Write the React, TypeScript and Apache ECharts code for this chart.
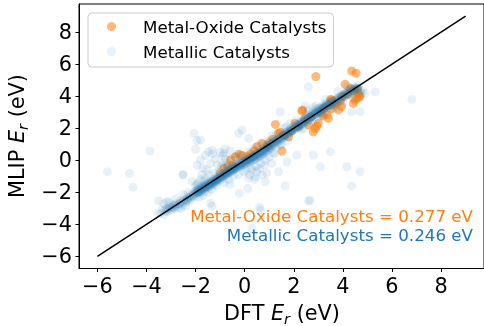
import React, { useEffect, useRef } from "react";
import * as echarts from "echarts";

// [DFT Er, MLIP Er] pairs (eV)
const metalOxide: [number, number][] = [
  [2.9, 5.22], [4.36, 5.57], [4.54, 5.43], [4.09, 4.74], [4.3, 4.49], [4.57, 3.87], [4.63, 4.18],
  [4.43, 3.55], [3.55, 3.76], [3.82, 3.14], [3.35, 2.83], [2.8, 1.78], [2.87, 1.99], [2.36, 3.14],
  [2.6, 2.2], [3.0, 2.3], [3.41, 2.62], [3.75, 3.55], [1.25, 2.24], [1.52, 0.58], [-0.22, 0.37],
  [-0.38, 0.22], [0.7, 1.06], [0.5, 0.85], [1.38, 1.68], [1.79, 1.47], [2.94, 2.14], [-0.58, 0.02],
  [-0.85, -0.5], [2.2, 2.1], [2.45, 2.6], [2.7, 2.7], [3.1, 3.0], [3.25, 3.3], [3.5, 3.2],
  [3.65, 3.45], [3.9, 3.7], [4.0, 4.0], [4.2, 4.1], [4.45, 4.3], [4.6, 4.45], [4.7, 4.0],
  [4.5, 3.75], [1.0, 1.1], [1.15, 1.3], [1.6, 1.55], [1.9, 1.8], [2.05, 2.3], [0.9, 0.95],
  [1.45, 1.75], [0.1, 0.25], [0.25, 0.4], [-0.1, 0.3], [-0.5, -0.3], [-0.7, -0.4], [0.4, 0.6],
  [-1.0, -0.8], [3.5, 3.8], [4.66, 3.93], [2.33, 3.08], [3.2, 2.75], [3.95, 3.35],
];

const metallic: [number, number][] = [
  // outliers
  [-5.6, -0.71], [-4.69, -0.81], [-4.55, -1.68], [-3.86, 0.58], [-2.07, 1.68], [-1.94, 1.23],
  [-2.0, 0.69], [-2.52, -0.87], [-3.5, -2.54], [-3.16, -2.58], [-1.46, 0.54], [-1.94, -0.29],
  [-1.8, 0.02], [-2.14, -1.33], [1.45, 3.03], [2.47, 3.39], [-0.11, 1.89], [-0.24, 1.68],
  [0.16, 1.37], [-1.8, 1.27], [-1.33, 0.64], [-0.85, 0.44], [1.38, -0.71], [1.65, -1.6],
  [-0.22, -2.06], [0.13, -1.75], [0.61, -2.93], [-1.33, -2.85], [2.8, 0.33], [2.67, -2.48],
  [0.43, -1.02], [1.11, -0.19], [1.72, -0.09], [-0.65, -0.29], [0.84, -1.33], [3.48, 0.54],
  [3.08, -0.4], [4.16, -0.4], [4.7, -0.71], [4.36, -1.6], [2.6, -2.54], [2.13, 0.33],
  [0.64, -3.1], [-2.51, -0.92], [-3.54, -3.3], [-1.39, -2.68], [0.3, -4.24], [5.31, 4.28],
  [6.81, 3.8], [4.9, 4.18], [4.7, 3.03], [4.36, 3.03], [2.6, 4.59],
  [-1.6, 0.3], [-1.2, 0.1], [-1.0, 0.5], [-0.8, 0.7], [-1.4, -0.2], [-1.7, -0.5], [-0.6, 0.6],
  [-1.1, -0.3], [-0.9, 0.3], [-1.3, 0.4], [0.3, -0.6], [0.6, -0.5], [1.0, 0.2], [0.9, -0.8],
  [1.2, 0.4], [0.15, -1.1],
  // band -3.4 .. -2
  [-3.42, -3.3], [-3.35, -3.05], [-3.28, -3.4], [-3.2, -3.0], [-3.12, -3.15], [-3.05, -2.85],
  [-2.98, -3.1], [-2.9, -2.75], [-2.85, -3.0], [-2.78, -2.7], [-2.7, -2.95], [-2.62, -2.55],
  [-2.55, -2.8], [-2.48, -2.45], [-2.42, -2.62], [-2.35, -2.3], [-2.3, -2.55], [-2.22, -2.2],
  [-2.18, -2.45], [-2.1, -2.05], [-2.05, -2.3], [-2.0, -1.95], [-3.1, -2.6], [-2.8, -2.4],
  [-2.6, -3.0], [-2.5, -2.15], [-2.3, -2.0], [-3.3, -2.7], [-2.4, -2.85],
  // band -2 .. -1
  [-1.98, -2.1], [-1.95, -1.85], [-1.92, -2.0], [-1.88, -1.7], [-1.85, -1.95], [-1.82, -1.8],
  [-1.78, -2.05], [-1.75, -1.6], [-1.72, -1.85], [-1.7, -1.7], [-1.66, -1.55], [-1.63, -1.9],
  [-1.6, -1.65], [-1.57, -1.45], [-1.54, -1.75], [-1.5, -1.55], [-1.47, -1.35], [-1.44, -1.65],
  [-1.4, -1.45], [-1.37, -1.3], [-1.34, -1.55], [-1.3, -1.4], [-1.27, -1.2], [-1.24, -1.45],
  [-1.2, -1.3], [-1.17, -1.1], [-1.14, -1.35], [-1.1, -1.2], [-1.07, -1.0], [-1.04, -1.25],
  [-1.0, -1.1], [-1.9, -1.4], [-1.8, -1.2], [-1.7, -2.2], [-1.6, -1.1], [-1.5, -2.0],
  [-1.45, -0.9], [-1.35, -1.8], [-1.25, -0.8], [-1.15, -1.6], [-1.05, -0.7], [-1.95, -1.5],
  [-1.65, -1.3], [-1.55, -0.6], [-1.75, -0.9], [-1.85, -2.3], [-2.0, -1.6],
  [-1.93, -1.92], [-1.81, -1.9], [-1.69, -1.62], [-1.58, -1.6], [-1.46, -1.5], [-1.33, -1.38],
  [-1.21, -1.22], [-1.12, -1.15], [-1.86, -1.78], [-1.62, -1.72], [-1.41, -1.38], [-1.18, -1.25],
  // band -1 .. 0
  [-0.97, -0.95], [-0.94, -1.15], [-0.9, -0.85], [-0.87, -1.05], [-0.84, -0.8], [-0.8, -0.95],
  [-0.77, -0.7], [-0.74, -0.9], [-0.7, -0.65], [-0.67, -0.85], [-0.64, -0.6], [-0.6, -0.75],
  [-0.57, -0.5], [-0.54, -0.7], [-0.5, -0.45], [-0.47, -0.65], [-0.44, -0.4], [-0.4, -0.55],
  [-0.37, -0.3], [-0.34, -0.5], [-0.3, -0.25], [-0.27, -0.45], [-0.24, -0.2], [-0.2, -0.4],
  [-0.17, -0.15], [-0.14, -0.35], [-0.1, -0.1], [-0.07, -0.3], [-0.04, -0.05], [0.0, -0.25],
  [-0.95, -0.4], [-0.85, -1.4], [-0.75, -0.2], [-0.65, -1.2], [-0.55, 0.1], [-0.45, -1.0],
  [-0.35, 0.2], [-0.25, -0.9], [-0.15, 0.3], [-0.05, -0.7], [-0.9, -0.2], [-0.6, -1.5],
  [-0.3, 0.4], [-0.8, 0.1], [-0.92, -0.98], [-0.78, -0.82], [-0.62, -0.7], [-0.48, -0.55],
  [-0.32, -0.4], [-0.18, -0.28], [-0.06, -0.15], [-0.71, -0.78], [-0.42, -0.48],
  // band 0 .. 1
  [0.03, 0.0], [0.06, -0.2], [0.1, 0.05], [0.13, -0.15], [0.16, 0.1], [0.2, -0.1], [0.23, 0.15],
  [0.26, -0.05], [0.3, 0.2], [0.33, 0.0], [0.36, 0.25], [0.4, 0.05], [0.43, 0.3], [0.46, 0.1],
  [0.5, 0.35], [0.53, 0.15], [0.56, 0.4], [0.6, 0.2], [0.63, 0.45], [0.66, 0.3], [0.7, 0.55],
  [0.73, 0.35], [0.76, 0.6], [0.8, 0.45], [0.83, 0.7], [0.86, 0.5], [0.9, 0.75], [0.93, 0.6],
  [0.96, 0.85], [1.0, 0.7], [0.05, -0.6], [0.15, 0.5], [0.25, -0.5], [0.35, 0.7], [0.45, -0.4],
  [0.55, 0.9], [0.65, -0.2], [0.75, 1.0], [0.85, 0.0], [0.95, 1.2], [0.2, -0.9], [0.5, -0.7],
  [0.8, -0.3], [0.4, -1.2], [0.7, -0.9], [0.08, -0.08], [0.22, 0.02], [0.38, 0.18],
  [0.52, 0.3], [0.68, 0.42], [0.82, 0.58], [0.98, 0.78],
  // band 1 .. 2
  [1.03, 0.9], [1.07, 0.75], [1.1, 1.0], [1.14, 0.85], [1.18, 1.1], [1.22, 0.95], [1.26, 1.2],
  [1.3, 1.05], [1.34, 1.3], [1.38, 1.15], [1.42, 1.4], [1.46, 1.25], [1.5, 1.5], [1.54, 1.35],
  [1.58, 1.6], [1.62, 1.45], [1.66, 1.7], [1.7, 1.55], [1.74, 1.8], [1.78, 1.65], [1.82, 1.9],
  [1.86, 1.75], [1.9, 2.0], [1.94, 1.85], [1.98, 2.1], [1.1, 1.5], [1.2, 0.5], [1.3, 1.7],
  [1.45, 0.9], [1.6, 2.0], [1.75, 1.2], [1.85, 2.3], [1.5, 1.0], [1.15, 1.35], [1.7, 2.1],
  // band 2 .. 3.5
  [2.02, 1.95], [2.06, 2.15], [2.1, 2.0], [2.14, 2.2], [2.18, 2.05], [2.22, 2.3], [2.26, 2.15],
  [2.3, 2.4], [2.34, 2.25], [2.38, 2.5], [2.42, 2.35], [2.46, 2.6], [2.5, 2.45], [2.54, 2.7],
  [2.58, 2.55], [2.62, 2.8], [2.66, 2.65], [2.7, 2.9], [2.74, 2.75], [2.78, 3.0], [2.82, 2.85],
  [2.86, 3.1], [2.9, 2.95], [2.94, 3.2], [2.98, 3.05], [3.02, 3.25], [3.06, 3.1], [3.1, 3.3],
  [3.14, 3.15], [3.18, 3.4], [3.22, 3.25], [3.26, 3.5], [3.3, 3.35], [3.34, 3.55], [3.38, 3.4],
  [3.42, 3.6], [3.46, 3.45], [3.5, 3.65], [2.1, 2.5], [2.3, 1.9], [2.5, 2.9], [2.7, 2.3],
  [2.9, 3.4], [3.1, 2.8], [3.3, 3.8], [2.4, 2.0], [2.8, 3.3], [3.2, 2.9], [2.6, 3.1], [3.0, 2.6],
  [2.2, 2.2], [2.44, 2.42], [2.68, 2.72], [2.92, 2.98], [3.16, 3.22], [3.4, 3.45],
  // band 3.5 .. 4.8
  [3.55, 3.5], [3.6, 3.7], [3.65, 3.55], [3.7, 3.8], [3.75, 3.65], [3.8, 3.9], [3.85, 3.75],
  [3.9, 4.0], [3.95, 3.85], [4.0, 4.1], [4.05, 3.95], [4.1, 4.2], [4.15, 4.05], [4.2, 4.3],
  [4.25, 4.15], [4.3, 4.4], [4.35, 4.25], [4.4, 4.5], [4.45, 4.35], [4.5, 4.55], [4.55, 4.4],
  [4.6, 4.5], [4.7, 4.3], [4.8, 4.4], [4.75, 4.15], [3.6, 3.2], [3.8, 4.3], [4.0, 3.6],
  [4.2, 4.6], [4.4, 3.9], [4.65, 4.7], [3.7, 3.3],
  // dense core along the diagonal
  [-3.2, -3.2], [-3.0, -2.95], [-2.85, -2.85], [-2.7, -2.75], [-2.55, -2.6], [-2.4, -2.45],
  [-2.27, -2.35], [-2.15, -2.25], [-2.05, -2.1], [-1.97, -2.02], [-1.9, -1.95], [-1.83, -1.88],
  [-1.76, -1.8], [-1.68, -1.75], [-1.61, -1.68], [-1.53, -1.6], [-1.45, -1.52], [-1.38, -1.45],
  [-1.31, -1.35], [-1.23, -1.3], [-1.16, -1.22], [-1.08, -1.12], [-1.01, -1.05], [-0.95, -1.02],
  [-0.88, -0.95], [-0.81, -0.88], [-0.73, -0.8], [-0.66, -0.72], [-0.58, -0.65], [-0.51, -0.58],
  [-0.43, -0.5], [-0.36, -0.42], [-0.28, -0.35], [-0.21, -0.28], [-0.13, -0.2], [-0.05, -0.12],
  [0.02, -0.05], [0.09, 0.02], [0.17, 0.08], [0.24, 0.16], [0.32, 0.22], [0.39, 0.3],
  [0.47, 0.38], [0.54, 0.45], [0.62, 0.52], [0.69, 0.6], [0.77, 0.68], [0.84, 0.76],
  [0.92, 0.84], [0.99, 0.92], [1.06, 1.0], [1.14, 1.08], [1.22, 1.15], [1.3, 1.24],
  [1.38, 1.32], [1.46, 1.4], [1.54, 1.48], [1.62, 1.57], [1.7, 1.65], [1.78, 1.74],
  [1.86, 1.82], [1.94, 1.9], [2.04, 2.02], [2.12, 2.1], [2.2, 2.18], [2.28, 2.27],
  [2.36, 2.35], [2.44, 2.44], [2.52, 2.52], [2.6, 2.6], [2.68, 2.68], [2.76, 2.77],
  [2.84, 2.85], [2.92, 2.93], [3.0, 3.02], [3.08, 3.1], [3.16, 3.18], [3.24, 3.27],
  [3.32, 3.35], [3.4, 3.43], [3.48, 3.52], [3.58, 3.62], [3.68, 3.7], [3.78, 3.8],
  [3.88, 3.9], [3.98, 4.0], [4.08, 4.1], [4.18, 4.2], [4.28, 4.3], [4.38, 4.38],
  [4.48, 4.45], [4.58, 4.42],
  [-2.95, -2.9], [-2.62, -2.68], [-2.33, -2.4], [-2.12, -2.18], [-1.88, -1.98], [-1.72, -1.78],
  [-1.56, -1.64], [-1.42, -1.5], [-1.27, -1.36], [-1.12, -1.2], [-0.98, -1.06], [-0.84, -0.92],
  [-0.69, -0.78], [-0.55, -0.62], [-0.4, -0.48], [-0.25, -0.32], [-0.1, -0.18], [0.06, -0.02],
  [0.21, 0.12], [0.35, 0.26], [0.5, 0.42], [0.65, 0.56], [0.8, 0.72], [0.95, 0.88],
  [1.1, 1.04], [1.26, 1.2], [1.42, 1.36], [1.58, 1.52], [1.74, 1.7], [1.9, 1.86],
  [2.08, 2.06], [2.24, 2.22], [2.4, 2.4], [2.56, 2.56], [2.72, 2.73], [2.88, 2.9],
  [3.04, 3.06], [3.2, 3.22], [3.36, 3.39], [3.53, 3.56], [3.73, 3.75], [3.93, 3.95],
  [4.13, 4.15], [4.33, 4.33], [4.53, 4.48],
  [-3.25, -3.1], [-3.15, -3.05], [-3.05, -3.0], [-2.92, -2.95], [-2.8, -2.82], [-2.66, -2.7],
  [-2.5, -2.55], [-2.37, -2.5], [-2.25, -2.3], [-2.1, -2.2], [-1.99, -1.9], [-1.94, -2.05],
  [-1.87, -1.85], [-1.8, -1.98], [-1.74, -1.7], [-1.67, -1.82], [-1.6, -1.58], [-1.52, -1.7],
  [-1.48, -1.45], [-1.4, -1.58], [-1.35, -1.33], [-1.28, -1.48], [-1.22, -1.18], [-1.15, -1.3],
  [-1.09, -1.05], [-1.03, -1.18], [-0.96, -0.9], [-0.89, -1.0], [-0.83, -0.75], [-0.76, -0.86],
  [-0.68, -0.6], [-0.61, -0.72], [-0.53, -0.48], [-0.46, -0.6], [-0.38, -0.35], [-0.31, -0.46],
  [-0.23, -0.22], [-0.16, -0.32], [-0.08, -0.06], [-0.02, -0.2], [0.04, 0.05], [0.11, -0.1],
  [0.19, 0.14], [0.27, 0.0], [0.34, 0.28], [0.42, 0.12], [0.49, 0.42], [0.57, 0.28],
  [0.64, 0.56], [0.72, 0.44], [0.79, 0.7], [0.87, 0.6], [0.94, 0.9], [1.01, 0.8],
  [1.08, 1.05], [1.16, 0.98], [1.24, 1.26], [1.32, 1.14], [1.4, 1.44], [1.48, 1.32],
  [1.56, 1.58], [1.64, 1.5], [1.72, 1.76], [1.8, 1.68], [1.88, 1.94], [1.96, 1.86],
  [2.03, 2.08], [2.09, 1.98], [2.16, 2.24], [2.23, 2.12], [2.31, 2.36], [2.37, 2.26],
  [2.45, 2.52], [2.51, 2.4], [2.59, 2.66], [2.65, 2.54], [2.73, 2.8], [2.79, 2.7],
  [2.87, 2.95], [2.93, 2.84], [3.01, 3.1], [3.07, 2.98], [3.15, 3.25], [3.21, 3.12],
  [3.29, 3.4], [3.35, 3.28], [3.43, 3.5], [3.49, 3.4], [3.57, 3.66], [3.66, 3.58],
  [3.76, 3.86], [3.86, 3.78], [3.96, 4.06], [4.06, 3.98], [4.16, 4.26], [4.26, 4.18],
  [4.36, 4.44], [4.46, 4.4], [4.56, 4.52],
];

const refLine: [number, number][] = [[-6, -6], [9, 9]];
const xTicks = [-6, -4, -2, 0, 2, 4, 6, 8];
const yTicks = [-6, -4, -2, 0, 2, 4, 6, 8];
const seriesNames = ["Metal-Oxide Catalysts", "Metallic Catalysts"];
const maeValues = ["0.277", "0.246"];

const ORANGE = "#ff7f0e";
const BLUE = "#1f77b4";
const FONT = "DejaVu Sans";

const fmt = (v: number) => (v < 0 ? "\u2212" + Math.abs(v) : String(v));

export default function App() {
  const ref = useRef<HTMLDivElement>(null);
  useEffect(() => {
    if (!ref.current) return;
    const chart = echarts.init(ref.current, undefined, { renderer: "svg" });
    const axisCommon = {
      type: "value" as const,
      min: -6.75,
      max: 9.75,
      splitLine: { show: false },
      axisLine: { show: true, onZero: false, lineStyle: { color: "#000", width: 1 } },
    };
    const nameRich = {
      n: { fontSize: 20.8, fontFamily: FONT, lineHeight: 26, verticalAlign: "middle" },
      i: { fontSize: 20.8, fontFamily: FONT, fontStyle: "italic", lineHeight: 26, verticalAlign: "middle" },
      s: { fontSize: 14.6, fontFamily: FONT, fontStyle: "italic", lineHeight: 15, verticalAlign: "bottom" },
    };
    chart.setOption({
      animation: false,
      grid: {
        left: 79,
        top: 4,
        width: 406,
        height: 264.5,
        show: true,
        borderColor: "#000",
        borderWidth: 1,
        backgroundColor: "transparent",
      },
      xAxis: {
        ...axisCommon,
        axisTick: { show: true, customValues: xTicks, length: 3.5, lineStyle: { color: "#000" } },
        axisLabel: {
          customValues: xTicks,
          formatter: fmt,
          fontSize: 20.8,
          fontFamily: FONT,
          color: "#000",
          margin: 7,
        },
      },
      yAxis: {
        ...axisCommon,
        axisTick: { show: true, customValues: yTicks, length: 3.5, lineStyle: { color: "#000" } },
        axisLabel: {
          customValues: yTicks,
          formatter: fmt,
          fontSize: 20.8,
          fontFamily: FONT,
          color: "#000",
          margin: 7,
        },
      },
      legend: {
        orient: "vertical",
        left: 88,
        top: 13,
        padding: [5, 7, 7, 19],
        itemWidth: 9,
        itemHeight: 9,
        itemGap: 8,
        backgroundColor: "rgba(255,255,255,0.8)",
        borderColor: "#cccccc",
        borderWidth: 1,
        borderRadius: 4,
        textStyle: {
          fontSize: 16.7,
          fontFamily: FONT,
          color: "#000",
          padding: [0, 0, 0, 22],
        },
        data: [
          { name: seriesNames[0], icon: "circle", itemStyle: { color: ORANGE, opacity: 0.55 } },
          { name: seriesNames[1], icon: "circle", itemStyle: { color: BLUE, opacity: 0.1 } },
        ],
      },
      graphic: [
        {
          type: "text",
          x: 282,
          y: 313,
          style: {
            text: "{n|DFT }{i|E}{s|r}{n| (eV)}",
            align: "center",
            verticalAlign: "middle",
            fill: "#000",
            rich: nameRich,
          },
        },
        {
          type: "text",
          x: 17,
          y: 136,
          rotation: Math.PI / 2,
          style: {
            text: "{n|MLIP }{i|E}{s|r}{n| (eV)}",
            align: "center",
            verticalAlign: "middle",
            fill: "#000",
            rich: nameRich,
          },
        },
        {
          type: "text",
          x: 473,
          y: 215.5,
          style: {
            text: `${seriesNames[0]} = ${maeValues[0]} eV`,
            align: "right",
            verticalAlign: "middle",
            fontSize: 16.7,
            fontFamily: FONT,
            fill: ORANGE,
          },
        },
        {
          type: "text",
          x: 473,
          y: 235,
          style: {
            text: `${seriesNames[1]} = ${maeValues[1]} eV`,
            align: "right",
            verticalAlign: "middle",
            fontSize: 16.7,
            fontFamily: FONT,
            fill: BLUE,
          },
        },
      ],
      series: [
        {
          name: seriesNames[0],
          type: "scatter",
          data: metalOxide,
          symbolSize: 9,
          itemStyle: { color: ORANGE, opacity: 0.55 },
          z: 2,
        },
        {
          name: seriesNames[1],
          type: "scatter",
          data: metallic,
          symbolSize: 9,
          itemStyle: { color: BLUE, opacity: 0.1 },
          z: 3,
        },
        {
          type: "line",
          data: refLine,
          symbol: "none",
          lineStyle: { color: "#000", width: 1.5 },
          z: 5,
          silent: true,
        },
      ],
    });
    return () => chart.dispose();
  }, []);
  return (
    <div
      ref={ref}
      style={{ position: "fixed", left: 0, top: 0, width: 484, height: 326 }}
    />
  );
}
